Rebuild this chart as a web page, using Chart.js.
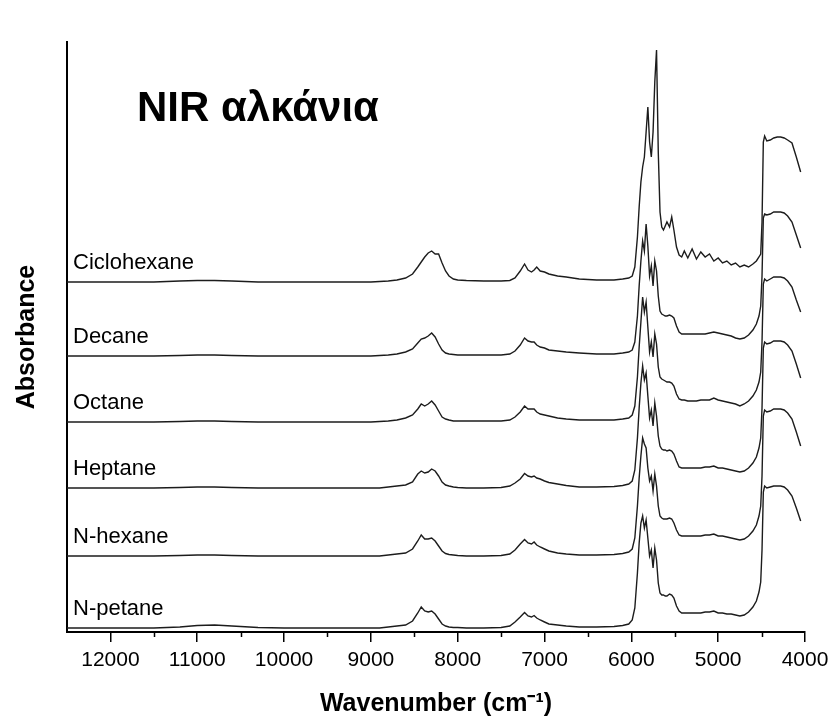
<!DOCTYPE html>
<html><head><meta charset="utf-8">
<script src="https://cdn.jsdelivr.net/npm/chart.js@4.4.0/dist/chart.umd.min.js"></script>
<style>html,body{margin:0;padding:0;background:#fff}canvas{display:block}</style>
</head><body>
<canvas id="c" width="829" height="723"></canvas>
<script>
// ---- chart texts ----
const chartTitle = 'NIR αλκάνια';
const xTitle = 'Wavenumber (cm\u207B\u00B9)';
const yTitle = 'Absorbance';
const seriesNames = ['Ciclohexane', 'Decane', 'Octane', 'Heptane', 'N-hexane', 'N-petane'];
// vertical stacking offset of each spectrum (same arbitrary absorbance units)
const offsets = [350, 276, 210, 144, 76, 4];
const majorTicks = [12000, 11000, 10000, 9000, 8000, 7000, 6000, 5000, 4000];
const minorTicks = [11500, 10500, 9500, 8500, 7500, 6500, 5500, 4500];

// ---- wavenumbers (cm-1) shared by all spectra ----
const wavenumbers = [
  12500, 12000, 11500, 11200, 11000, 10800, 10600, 10300, 10000, 9600, 9200, 9000,
  8900, 8800, 8700, 8600, 8520, 8460, 8420, 8380, 8340, 8300, 8260, 8220, 8180, 8140, 8100, 8050, 8000,
  7900, 7700, 7500, 7400, 7340, 7280, 7230, 7190, 7150, 7120, 7090, 7050, 7000, 6950, 6850, 6750, 6600, 6400, 6200,
  6100, 6030, 5990, 5960, 5930, 5910, 5890, 5870, 5850, 5830, 5810, 5790, 5770, 5750, 5730, 5710, 5690, 5670, 5650, 5630, 5610, 5590, 5560, 5535, 5510, 5480, 5450,
  5420, 5390, 5350, 5300, 5250, 5200, 5150, 5100, 5050, 5000, 4950, 4900, 4850, 4800, 4750, 4700, 4650, 4600, 4560, 4530, 4510,
  4495, 4480, 4465, 4440, 4400, 4360, 4320, 4280, 4240, 4200, 4150, 4100, 4050
];

// ---- absorbance of each spectrum (before offset) ----
const ciclohexane = [
  0, 0, 0, 1, 1.5, 1.5, 1, 0, 0, 0, 0, 0,
  0.5, 1, 2, 4, 8, 15, 20, 25, 29, 31, 28, 28, 19, 11, 6, 3, 2,
  1.5, 1, 1, 1.5, 4, 11, 18, 12, 10, 12, 15, 11, 10, 8, 6, 5, 3, 2, 2,
  3, 4, 6, 15, 45, 75, 100, 115, 125, 150, 175, 140, 125, 150, 200, 232, 130, 70, 55, 52, 56, 60, 55, 65, 52, 35, 27,
  25, 31, 24, 33, 23, 30, 25, 28, 21, 24, 19, 21, 17, 19, 15, 17, 15, 18, 21, 25, 28,
  60, 140, 146, 141, 142, 144, 145, 145, 144, 142, 139, 125, 110
];
const decane = [
  0, 0, 0, 0.5, 1, 1, 0.5, 0, 0, 0, 0, 0,
  0.5, 1, 2, 4, 7, 13, 17, 18, 20, 23, 19, 12, 6, 3, 2, 1.5, 1,
  1, 1, 1, 2, 5, 11, 18, 15, 14, 14, 11, 9, 8, 6, 5, 4, 3, 2, 2,
  3, 4, 6, 14, 40, 70, 95, 115, 105, 132, 110, 80, 90, 70, 95, 85, 60, 45, 42, 41, 40, 40, 41, 40, 38, 30, 24,
  22, 22, 22, 22, 22, 22, 22, 23, 24, 23, 22, 21, 20, 18, 17, 18, 21, 26, 32, 40, 50,
  80, 138, 142, 141, 142, 144, 144, 144, 143, 140, 134, 121, 108
];
const octane = [
  0, 0, 0, 0.5, 1, 1, 0.5, 0, 0, 0, 0, 0,
  0.5, 1, 2, 4, 7, 13, 18, 16, 18, 21, 17, 11, 5, 3, 2, 1, 1,
  1, 1, 1, 2, 5, 10, 16, 13, 13, 13, 10, 8, 7, 6, 4, 3, 2, 2, 2,
  3, 4, 7, 16, 45, 75, 100, 125, 110, 120, 95, 70, 80, 65, 88, 78, 55, 45, 43, 42, 41, 40, 40, 39, 36, 28, 23,
  22, 22, 21, 21, 21, 22, 22, 22, 24, 22, 21, 20, 19, 18, 16, 18, 21, 26, 32, 40, 50,
  80, 138, 143, 141, 143, 145, 145, 145, 144, 141, 135, 122, 110
];
const heptane = [
  0, 0, 0, 0.5, 1, 1, 0.5, 0, 0, 0, 0, 0,
  0, 1, 2, 3, 6, 14, 17, 15, 16, 19, 17, 12, 6, 3, 2, 1, 0.5,
  0, 0, 0.5, 2, 5, 9, 14.5, 12, 11, 12, 10, 9, 7, 5.5, 4, 2.5, 1, 1, 1.5,
  2.5, 4, 7, 18, 50, 80, 105, 122, 108, 115, 92, 70, 78, 62, 85, 72, 52, 42, 39, 38, 38, 37, 38, 37, 34, 27, 21,
  20, 20, 20, 20, 20, 20, 21, 21, 22, 20, 20, 19, 18, 17, 16, 17, 20, 25, 31, 40, 50,
  80, 140, 146, 144, 145, 147, 147, 147, 146, 143, 137, 124, 110
];
const nHexane = [
  0, 0, 0, 0.5, 1, 1, 0.5, 0, 0, 0, 0, 0,
  0, 1, 2, 3, 7, 15, 21, 17, 17, 18, 15, 10, 5, 2.5, 1.5, 1, 0.5,
  0, 0, 0.5, 2, 6, 12, 16.5, 13, 12, 14, 11, 9, 7, 5, 3, 2, 1, 1, 1.5,
  2.5, 4, 7, 18, 50, 78, 100, 118, 112, 108, 88, 75, 80, 65, 82, 70, 50, 40, 38, 37, 37, 37, 38, 37, 33, 26, 21,
  20, 20, 20, 20, 20, 20, 21, 21, 22, 20, 20, 19, 18, 17, 16, 17, 20, 25, 31, 40, 50,
  80, 140, 146, 144, 145, 147, 147, 147, 146, 143, 137, 124, 110
];
const nPetane = [
  0, 0, 0, 1, 2.5, 3, 2, 0.5, 0, 0, 0, 0,
  0, 1, 2, 3, 7, 15, 21, 17, 16, 17, 14, 9, 4, 2, 1, 0.5, 0.5,
  0, 0, 0.5, 2, 6, 11, 15.5, 12, 11, 12.5, 10, 8, 6, 4, 3, 2, 1, 1, 1.5,
  2.5, 4, 8, 20, 55, 85, 105, 112, 100, 108, 90, 72, 78, 60, 80, 68, 45, 35, 33, 33, 32, 32, 34, 33, 30, 22, 17,
  15, 15, 15, 15, 15, 15, 16, 16, 17, 15, 15, 14, 14, 13, 12, 13, 16, 21, 27, 36, 46,
  78, 136, 142, 140, 141, 142, 142, 142, 141, 138, 132, 120, 107
];

const spectra = [ciclohexane, decane, octane, heptane, nHexane, nPetane];
const FONT = '"Liberation Sans", Arial, Helvetica, sans-serif';

const datasets = spectra.map((vals, i) => ({
  label: seriesNames[i],
  data: wavenumbers.map((w, j) => ({ x: w, y: vals[j] + offsets[i] })),
  borderColor: '#1c1c1c',
  borderWidth: 1.4,
  pointRadius: 0,
  tension: 0,
  fill: false
}));

const annotations = {
  id: 'annotations',
  afterDraw(chart) {
    const { ctx, scales: { x, y } } = chart;
    ctx.save();
    // minor ticks of the wavenumber axis
    ctx.strokeStyle = '#000';
    ctx.lineWidth = 1.5;
    const yb = y.getPixelForValue(y.min);
    minorTicks.forEach(v => {
      const px = Math.round(x.getPixelForValue(v)) + 0.5;
      ctx.beginPath(); ctx.moveTo(px, yb); ctx.lineTo(px, yb + 5); ctx.stroke();
    });
    // series names, placed above each spectrum baseline
    ctx.fillStyle = '#000';
    ctx.font = '22px ' + FONT;
    ctx.textAlign = 'left';
    ctx.textBaseline = 'middle';
    seriesNames.forEach((n, i) => {
      ctx.fillText(n, x.left + 6, y.getPixelForValue(offsets[i]) - 19);
    });
    // chart title inside the plot
    ctx.font = 'bold 42px ' + FONT;
    ctx.textBaseline = 'alphabetic';
    ctx.fillText(chartTitle, x.left + 70, y.top + 79);
    ctx.restore();
  }
};

new Chart(document.getElementById('c'), {
  type: 'line',
  data: { datasets },
  plugins: [annotations],
  options: {
    responsive: false,
    animation: false,
    devicePixelRatio: 1,
    layout: { padding: { top: 42, right: 24, bottom: 0, left: 0 } },
    plugins: { legend: { display: false }, tooltip: { enabled: false }, title: { display: false } },
    scales: {
      x: {
        type: 'linear',
        reverse: true,
        min: 4000,
        max: 12500,
        afterBuildTicks: s => { s.ticks = majorTicks.map(v => ({ value: v })); },
        afterFit: s => { s.height = 91; s.paddingLeft = 0; s.paddingRight = 0; },
        ticks: {
          autoSkip: false, maxRotation: 0, minRotation: 0, padding: 6, color: '#000',
          font: { family: FONT, size: 21 },
          callback: v => String(v)
        },
        grid: { display: true, drawOnChartArea: false, drawTicks: true, tickLength: 10, color: '#000', lineWidth: 1.5 },
        border: { display: true, color: '#000', width: 2 },
        title: {
          display: true, text: xTitle, color: '#000',
          font: { family: FONT, size: 25, weight: 'bold' },
          padding: { top: 0, bottom: 4 }
        }
      },
      y: {
        min: 0,
        max: 590,
        afterFit: s => { s.width = 67; },
        ticks: { display: false },
        grid: { display: false, drawTicks: false },
        border: { display: true, color: '#000', width: 2 },
        title: {
          display: true, text: yTitle, color: '#000',
          font: { family: FONT, size: 25, weight: 'bold' },
          padding: { top: 12, bottom: 0 }
        }
      }
    }
  }
});
</script>
</body></html>
